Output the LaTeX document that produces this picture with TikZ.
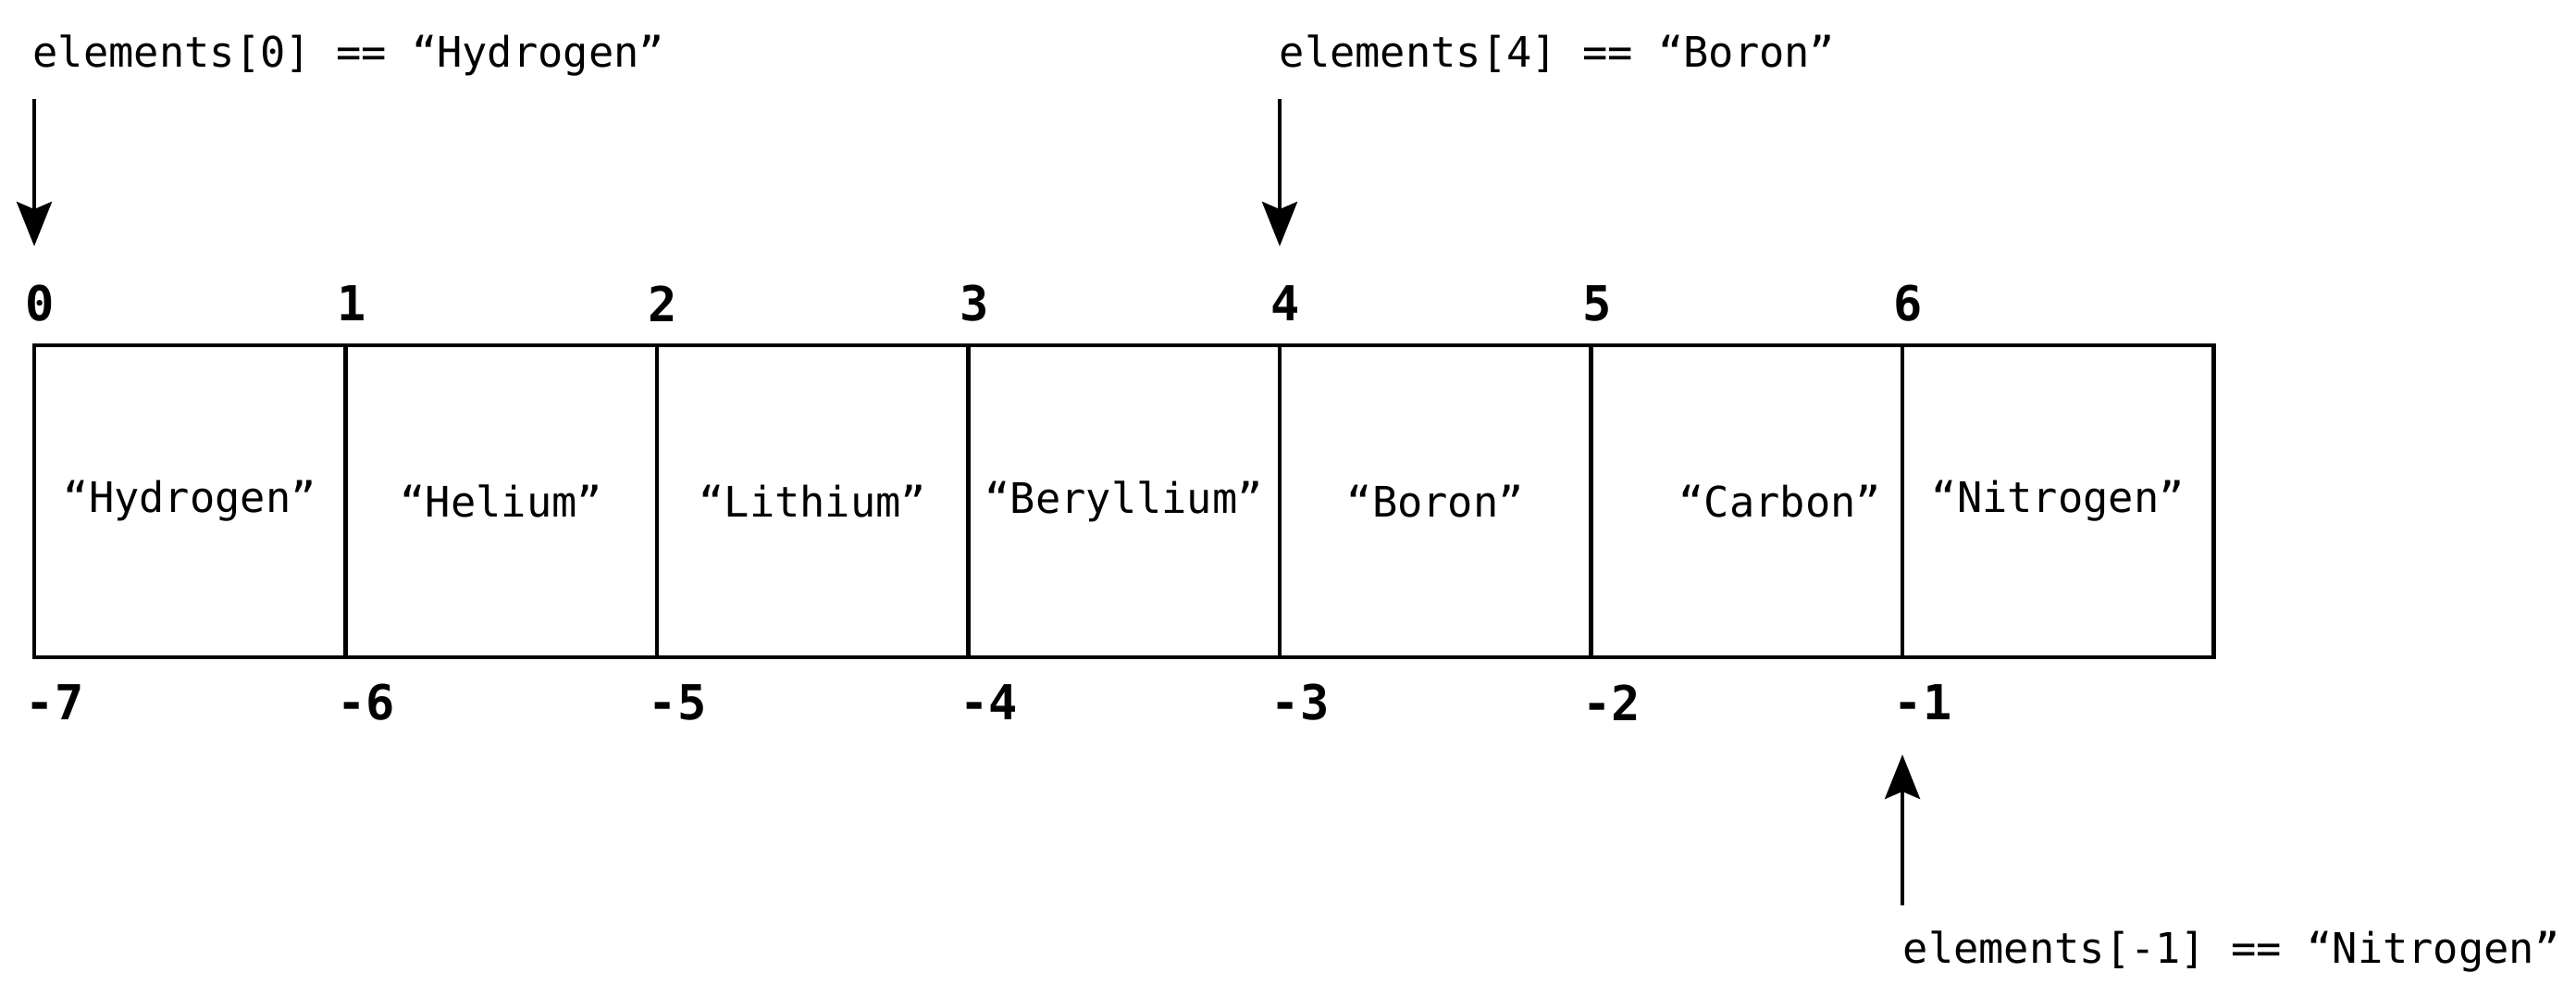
\documentclass[tikz,border=0pt]{standalone}
\usepackage{fontspec}
\setmonofont{DejaVu Sans Mono}
\usetikzlibrary{arrows.meta,positioning,calc}

\tikzstyle{cell} = [draw=black, line width=1.3pt, rectangle, outer sep=0pt,
  inner sep=0pt, minimum width=3.365cm, minimum height=3.37cm,
  font=\ttfamily\fontsize{12.9}{15}\selectfont]
\tikzstyle{idx} = [inner sep=0pt, anchor=west,
  font=\ttfamily\bfseries\fontsize{14.8}{17}\selectfont]
\tikzstyle{access} = [inner sep=0pt, anchor=base west,
  font=\ttfamily\fontsize{12.9}{15}\selectfont]
\tikzstyle{pointer} = [-{Stealth[length=0.48cm,width=0.38cm,inset=0.08cm]},
  line width=1.2pt]

\begin{document}
\begin{tikzpicture}
        \useasboundingbox (0,0) rectangle (27.84,-10.76);

        \node [cell] (c0) at (2.0525,-5.415)  {“Hydrogen”};
        \node [cell, right=0cm of c0] (c1) {“Helium”};
        \node [cell, right=0cm of c1] (c2) {“Lithium”};
        \node [cell, right=0cm of c2] (c3) {“Beryllium”};
        \node [cell, right=0cm of c3] (c4) {“Boron”};
        \node [cell, right=0cm of c4] (c5) {\hspace{0.72cm}“Carbon”};
        \node [cell, right=0cm of c5] (c6) {“Nitrogen”};

        \node [idx] (t0) at ([xshift=-0.1cm,yshift=0.45cm]c0.north west) {0};
        \node [idx] (t1) at ([xshift=-0.1cm,yshift=0.45cm]c1.north west) {1};
        \node [idx] (t2) at ([xshift=-0.1cm,yshift=0.45cm]c2.north west) {2};
        \node [idx] (t3) at ([xshift=-0.1cm,yshift=0.45cm]c3.north west) {3};
        \node [idx] (t4) at ([xshift=-0.1cm,yshift=0.45cm]c4.north west) {4};
        \node [idx] (t5) at ([xshift=-0.1cm,yshift=0.45cm]c5.north west) {5};
        \node [idx] (t6) at ([xshift=-0.1cm,yshift=0.45cm]c6.north west) {6};

        \node [idx] (b0) at ([xshift=-0.1cm,yshift=-0.49cm]c0.south west) {-7};
        \node [idx] (b1) at ([xshift=-0.1cm,yshift=-0.49cm]c1.south west) {-6};
        \node [idx] (b2) at ([xshift=-0.1cm,yshift=-0.49cm]c2.south west) {-5};
        \node [idx] (b3) at ([xshift=-0.1cm,yshift=-0.49cm]c3.south west) {-4};
        \node [idx] (b4) at ([xshift=-0.1cm,yshift=-0.49cm]c4.south west) {-3};
        \node [idx] (b5) at ([xshift=-0.1cm,yshift=-0.49cm]c5.south west) {-2};
        \node [idx] (b6) at ([xshift=-0.1cm,yshift=-0.49cm]c6.south west) {-1};

        \node [access] (first) at (0.35,-0.72)   {elements[0] == “Hydrogen”};
        \node [access] (fifth) at (13.82,-0.72)  {elements[4] == “Boron”};
        \node [access] (last)  at (20.56,-10.40) {elements[-1] == “Nitrogen”};

        \draw[pointer] ($(c0.north west |- first.base)+(0,-0.35)$) -- ([yshift=1.07cm]c0.north west);
        \draw[pointer] ($(c4.north west |- fifth.base)+(0,-0.35)$) -- ([yshift=1.07cm]c4.north west);
        \draw[pointer] ($(c6.south west |- last.base)+(0,0.62)$) -- ([yshift=-1.05cm]c6.south west);
      \end{tikzpicture}
\end{document}
